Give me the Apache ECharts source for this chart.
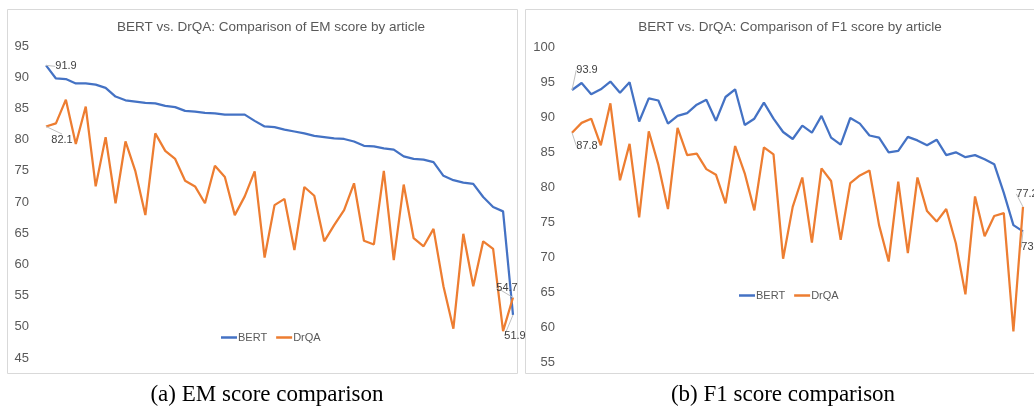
<!DOCTYPE html>
<html>
<head>
<meta charset="utf-8">
<script src="https://cdn.jsdelivr.net/npm/echarts@6/dist/echarts.min.js"></script>
<style>
  html, body { margin: 0; padding: 0; background: #fff; }
  #chart { width: 1034px; height: 407px; }
</style>
</head>
<body>
<div id="chart"></div>
<script>
// articles (x axis, unlabeled), sorted by BERT EM score
const articles = Array.from({ length: 48 }, (_, i) => 'A' + (i + 1))

// EM scores
const bertEM = [91.9, 89.8, 89.7, 89.0, 89.0, 88.8, 88.3, 86.9, 86.3, 86.1, 85.9, 85.8, 85.4, 85.2, 84.6, 84.5,
  84.3, 84.2, 84.0, 84.0, 84.0, 83.0, 82.1, 82.0, 81.6, 81.3, 81.0, 80.6, 80.4, 80.2, 80.1, 79.7,
  79.0, 78.9, 78.6, 78.4, 77.3, 76.9, 76.8, 76.4, 74.2, 73.5, 73.1, 72.9, 70.8, 69.2, 68.5, 51.9]
const drqaEM = [82.1, 82.6, 86.4, 79.3, 85.3, 72.5, 80.4, 69.8, 79.7, 74.9, 67.9, 81.0, 78.2, 76.9, 73.4, 72.5,
  69.8, 75.8, 74.0, 67.9, 70.9, 74.9, 61.1, 69.5, 70.5, 62.3, 72.4, 71.0, 63.7, 66.3, 68.7, 73.0,
  63.8, 63.2, 75.0, 60.7, 72.8, 64.2, 62.9, 65.7, 56.5, 49.7, 64.9, 56.5, 63.7, 62.5, 49.3, 54.7]

// F1 scores
const bertF1 = [93.9, 94.9, 93.3, 94.0, 95.1, 93.5, 95.0, 89.4, 92.7, 92.4, 89.1, 90.2, 90.6, 91.8, 92.5, 89.5,
  92.9, 94.0, 88.9, 89.8, 92.1, 89.8, 87.9, 86.9, 88.8, 87.8, 90.2, 87.1, 86.1, 89.9, 89.1, 87.4,
  87.1, 85.0, 85.2, 87.2, 86.7, 86.0, 86.8, 84.6, 85.0, 84.3, 84.6, 84.0, 83.3, 79.2, 74.6, 73.7]
const drqaF1 = [87.8, 89.2, 89.8, 86.0, 92.0, 81.0, 86.2, 75.7, 88.0, 83.2, 76.9, 88.5, 84.6, 84.8, 82.6, 81.8,
  77.7, 85.9, 82.0, 76.7, 85.7, 84.7, 69.8, 77.2, 81.4, 72.1, 82.7, 80.9, 72.5, 80.6, 81.7, 82.4,
  74.6, 69.4, 80.8, 70.6, 81.4, 76.6, 75.1, 76.9, 72.0, 64.7, 78.7, 73.0, 75.9, 76.3, 59.4, 77.2]

const chartTitles = ['BERT vs. DrQA: Comparison of EM score by article', 'BERT vs. DrQA: Comparison of F1 score by article']
const captions = ['(a) EM score comparison', '(b) F1 score comparison']

const BLUE = '#4472C4'
const ORANGE = '#ED7D31'
const TEXT = '#595959'
const FONT = 'Liberation Sans'

// label offsets (dx, dy) for the first / last points of each series
const labelOffsets = [
  { 0: [20, 1], 47: [2, 21] },    // BERT EM
  { 0: [16, 13], 47: [-6, -10] }, // DrQA EM
  { 0: [15, -20], 47: [9, 16] },  // BERT F1
  { 0: [15, 13], 47: [4, -13] }   // DrQA F1
]

const makeData = (values, sIdx) => values.map((v, i) => {
  if (labelOffsets[sIdx][i] === undefined) return v
  return { value: v, label: { show: true } }
})

const makeSeries = (name, values, color, idx, axisIdx) => ({
  name,
  type: 'line',
  xAxisIndex: axisIdx,
  yAxisIndex: axisIdx,
  data: makeData(values, idx),
  symbol: 'circle',
  symbolSize: 0,
  showSymbol: true,
  showAllSymbol: true,
  lineStyle: { color, width: 2.25 },
  itemStyle: { color },
  label: {
    show: false,
    position: 'inside',
    color: '#404040',
    fontSize: 11,
    fontFamily: FONT
  },
  labelLine: { show: true, lineStyle: { color: '#bfbfbf', width: 1 } },
  labelLayout: (params) => {
    const o = labelOffsets[idx][params.dataIndex]
    return o ? { dx: o[0], dy: o[1] } : {}
  },
  emphasis: { disabled: true },
  animation: false
})

const yAxis = (min, max, axisIdx) => ({
  type: 'value',
  gridIndex: axisIdx,
  min,
  max,
  interval: 5,
  axisLine: { show: false },
  axisTick: { show: false },
  splitLine: { show: false },
  axisLabel: { color: TEXT, fontSize: 13, fontFamily: FONT, margin: 17 }
})

const xAxis = (axisIdx) => ({
  type: 'category',
  gridIndex: axisIdx,
  data: articles,
  boundaryGap: false,
  axisLine: { show: false },
  axisTick: { show: false },
  axisLabel: { show: false },
  splitLine: { show: false }
})

const legend = (left, top) => ({
  left,
  top,
  icon: 'rect',
  itemWidth: 16,
  itemHeight: 2.5,
  itemGap: 9,
  textStyle: { color: TEXT, fontSize: 11, fontFamily: FONT, padding: [0, 0, 0, -4] },
  data: ['BERT', 'DrQA'],
  selectedMode: false
})

const chart = echarts.init(document.getElementById('chart'))
chart.setOption({
  backgroundColor: '#fff',
  animation: false,
  title: [
    { text: chartTitles[0], left: 266, top: 15, textAlign: 'center',
      textStyle: { color: TEXT, fontSize: 13.5, fontWeight: 'normal', fontFamily: FONT } },
    { text: chartTitles[1], left: 785, top: 15, textAlign: 'center',
      textStyle: { color: TEXT, fontSize: 13.5, fontWeight: 'normal', fontFamily: FONT } },
    { text: captions[0], left: 262, top: 378, textAlign: 'center',
      textStyle: { color: '#000', fontSize: 23, fontWeight: 'normal', fontFamily: 'Liberation Serif' } },
    { text: captions[1], left: 778, top: 378, textAlign: 'center',
      textStyle: { color: '#000', fontSize: 23, fontWeight: 'normal', fontFamily: 'Liberation Serif' } }
  ],
  legend: [legend(216, 327), legend(734, 285)],
  graphic: [
    { type: 'rect', shape: { x: 7.5, y: 9.5, width: 510, height: 364 },
      style: { fill: 'none', stroke: '#d9d9d9', lineWidth: 1 }, silent: true, z: -1 },
    { type: 'rect', shape: { x: 525.5, y: 9.5, width: 520, height: 364 },
      style: { fill: 'none', stroke: '#d9d9d9', lineWidth: 1 }, silent: true, z: -1 }
  ],
  grid: [
    { left: 46, top: 46, width: 467, height: 312 },
    { left: 572, top: 47.3, width: 451, height: 315 }
  ],
  xAxis: [xAxis(0), xAxis(1)],
  yAxis: [yAxis(45, 95, 0), yAxis(55, 100, 1)],
  series: [
    makeSeries('BERT', bertEM, BLUE, 0, 0),
    makeSeries('DrQA', drqaEM, ORANGE, 1, 0),
    makeSeries('BERT', bertF1, BLUE, 2, 1),
    makeSeries('DrQA', drqaF1, ORANGE, 3, 1)
  ]
})
</script>
</body>
</html>
